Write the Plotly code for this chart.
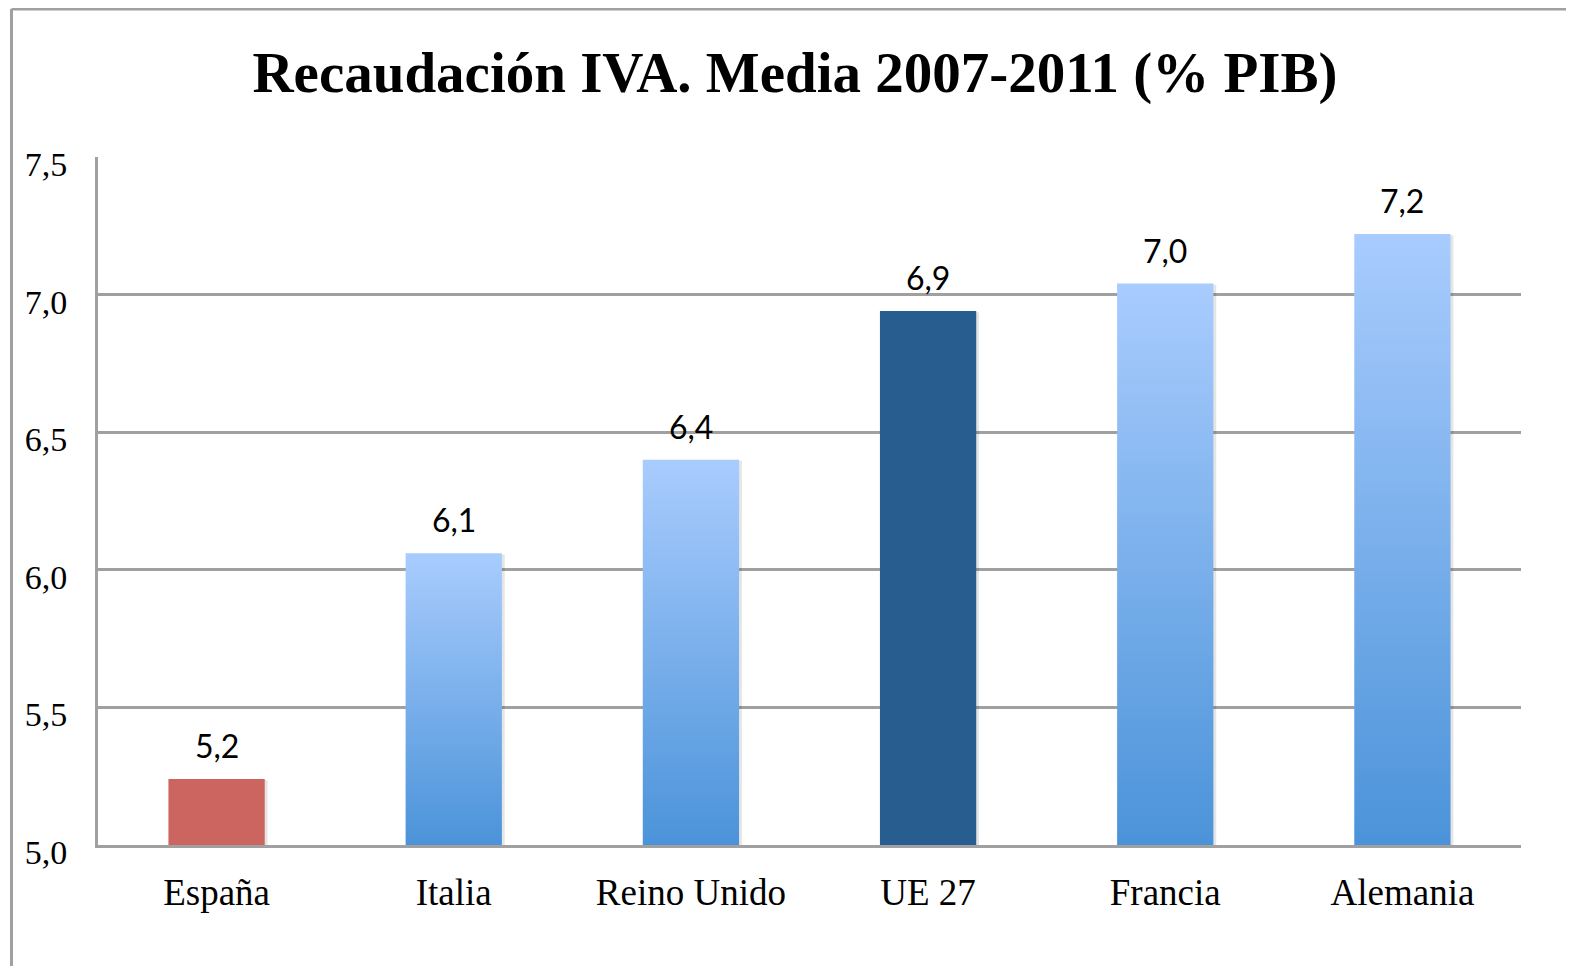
import plotly.graph_objects as go

# Datos (lectura del gráfico)
paises = ["España", "Italia", "Reino Unido", "UE 27", "Francia", "Alemania"]
iva_pib = [5.24, 6.06, 6.40, 6.94, 7.04, 7.22]
y_ticks = [5.0, 5.5, 6.0, 6.5, 7.0, 7.5]

BASE = 5.0
HALF_W = 0.203
GRID = "#a0a0a0"

# la página tiene 8px de margen en el body: la figura mide 1558x958
W, H = 1558, 958
L, R, T, B = 90, 45, 149, 121
PW, PH = W - L - R, H - T - B

fig = go.Figure()

for i, (pais, v) in enumerate(zip(paises, iva_pib)):
    xs = [i - HALF_W, i + HALF_W, i + HALF_W, i - HALF_W, i - HALF_W]
    ys = [BASE, BASE, v, v, BASE]
    # sombra suave
    fig.add_trace(go.Scatter(x=[x + 0.012 for x in xs], y=[max(BASE, y - 0.004) for y in ys],
                             fill='toself', mode='lines', line={'width': 0},
                             fillcolor='rgba(0,0,0,0.10)', hoverinfo='skip', showlegend=False))
    if pais == "España":
        fig.add_trace(go.Scatter(x=xs, y=ys, fill='toself', mode='lines', line={'width': 0},
                                 fillcolor='#cc655f', name=pais, showlegend=False))
    elif pais == "UE 27":
        fig.add_trace(go.Scatter(x=xs, y=ys, fill='toself', mode='lines', line={'width': 0},
                                 fillcolor='#285d8f', name=pais, showlegend=False))
    else:
        fig.add_trace(go.Scatter(x=xs, y=ys, fill='toself', mode='lines', line={'width': 0},
                                 fillgradient=dict(type='vertical',
                                                   colorscale=[[0, '#4b93d9'], [1, '#a9ccfe']]),
                                 name=pais, showlegend=False))
    fig.add_annotation(x=i, y=v, text=("%.1f" % v).replace('.', ','), showarrow=False,
                       yanchor='bottom', yshift=12,
                       font={'family': 'Lato', 'size': 32, 'color': 'black'})

border_x = (3.5 - L) / PW
border_y = (PH + T - 1) / PH

fig.update_layout(
    width=W, height=H,
    margin={'l': L, 'r': R, 't': T, 'b': B},
    paper_bgcolor='white', plot_bgcolor='white',
    separators=', ',
    title=dict(text="<b>Recaudación IVA. Media 2007-2011 (% PIB)</b>",
               x=787 / W, xanchor='center', y=1 - 64 / H, yanchor='middle', yref='container',
               font={'family': 'Liberation Serif', 'size': 57, 'color': 'black'}),
    xaxis=dict(range=[-0.5, len(paises) - 0.5], tickvals=list(range(len(paises))), ticktext=paises,
               showgrid=False, zeroline=False, showline=True, linecolor=GRID, linewidth=3,
               ticks='', ticklabelstandoff=13,
               tickfont={'family': 'Liberation Serif', 'size': 37, 'color': 'black'}),
    yaxis=dict(range=[5.0, 7.5], tickvals=y_ticks, tickformat='.1f',
               showgrid=True, gridcolor=GRID, gridwidth=3, zeroline=False,
               showline=True, linecolor=GRID, linewidth=3, ticks='', ticklabelstandoff=21,
               ticklabelshift=7,
               tickfont={'family': 'Liberation Serif', 'size': 34, 'color': 'black'}),
    shapes=[
        dict(type='line', xref='paper', yref='paper', x0=border_x, x1=1.2, y0=border_y,
             y1=border_y, line={'color': GRID, 'width': 3}),
        dict(type='line', xref='paper', yref='paper', x0=border_x, x1=border_x,
             y0=-0.3, y1=border_y, line={'color': GRID, 'width': 3}),
    ],
)

fig.write_html("out.html")
